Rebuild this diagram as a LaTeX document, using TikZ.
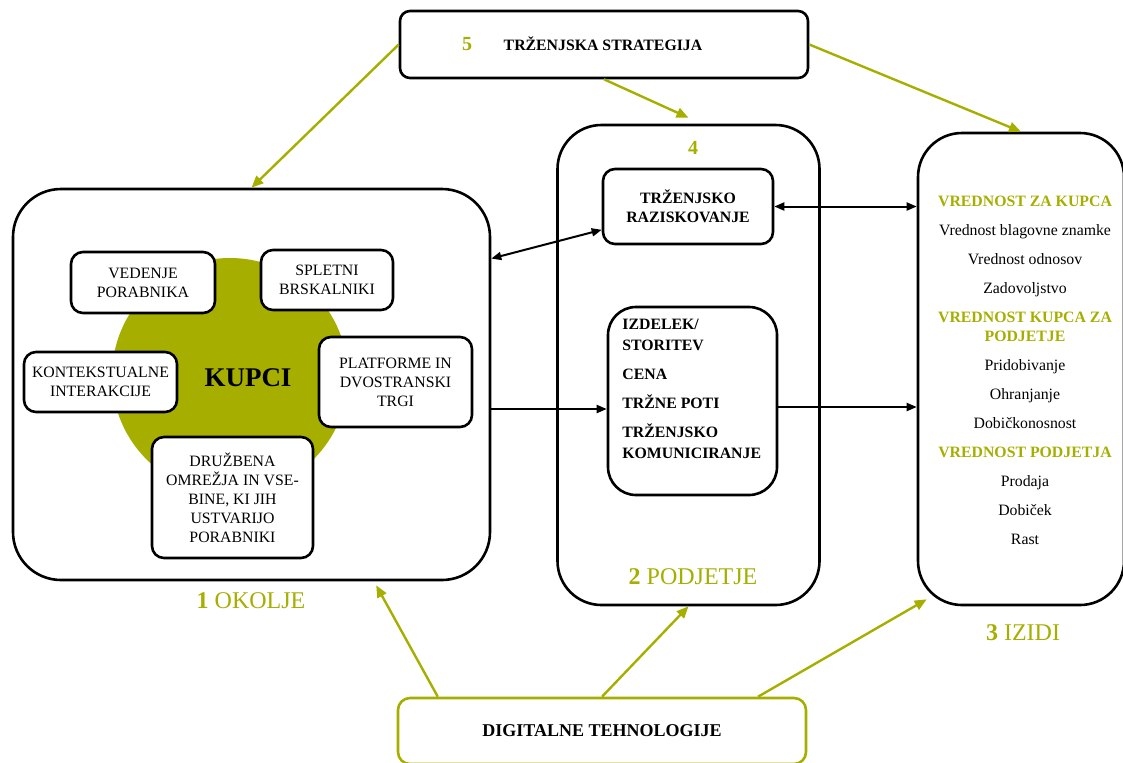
\documentclass[tikz,border=0pt]{standalone}
\usepackage{fontspec}
\setmainfont{Liberation Serif}
\usetikzlibrary{calc,arrows.meta}
\definecolor{trzolive}{RGB}{166,174,0}

\begin{document}
\begin{tikzpicture}[x=0.5pt,y=-0.5pt,
    bigbox/.style={draw,line width=1.3pt,rounded corners=24pt},
    smallbox/.style={draw,line width=1.3pt,rounded corners=6pt,fill=white,align=center,
      font=\fontsize{7.9}{9.5}\selectfont},
    greenarr/.style={draw=trzolive,line width=1.2pt,-{Triangle[length=6pt,width=5pt]}},
    blackarr/.style={line width=1pt,-{Triangle[length=5pt,width=4pt]}},
    dblarr/.style={line width=1pt,{Triangle[length=5pt,width=4pt]}-{Triangle[length=5pt,width=4pt]}},
    lbl/.style={text=trzolive,font=\fontsize{12}{14}\selectfont}]
    \useasboundingbox (0,0) rectangle (1123,762);

    % main boxes
    \node (strat) at (604,44.5) [draw,line width=1.3pt,rounded corners=5pt,
      minimum width=204pt,minimum height=33.5pt] {};
    \node (okolje) at (251.5,384.5) [bigbox,minimum width=238.5pt,minimum height=195.5pt] {};
    \node (podjetje) at (688.5,365) [bigbox,rounded corners=22pt,minimum width=131pt,minimum height=240pt] {};
    \node (izidi) at (1021,369) [bigbox,rounded corners=22pt,minimum width=103pt,minimum height=236pt] {};
    \node (digital) at (602,731) [draw=trzolive,line width=1.3pt,rounded corners=6pt,
      minimum width=204pt,minimum height=33pt,font=\fontsize{9}{11}\bfseries] {DIGITALNE TEHNOLOGIJE};

    \node (num5) at (467,44) [text=trzolive,font=\fontsize{10}{12}\bfseries] {5};
    \node (strattxt) at (603,44) [font=\fontsize{7.9}{9.5}\bfseries] {TRŽENJSKA STRATEGIJA};

    % okolje
    \fill[trzolive] (230,376) circle (59pt);
    \node (kupci) at (248,378) [font=\fontsize{13.5}{16}\bfseries] {KUPCI};
    \node (vedenje) at (143,282.5) [smallbox,minimum width=72pt,minimum height=30.5pt] {VEDENJE\\PORABNIKA};
    \node (spletni) at (327,280) [smallbox,minimum width=66pt,minimum height=30pt] {SPLETNI\\BRSKALNIKI};
    \node (kontekst) at (100.5,382) [smallbox,minimum width=76.5pt,minimum height=30pt] {KONTEKSTUALNE\\INTERAKCIJE};
    \node (platforme) at (395.5,382) [smallbox,minimum width=76.5pt,minimum height=45pt] {PLATFORME IN\\DVOSTRANSKI\\TRGI};
    \node (druzbena) at (232.5,497.5) [smallbox,minimum width=80.5pt,minimum height=60.5pt] {DRUŽBENA\\OMREŽJA IN VSE-\\BINE, KI JIH\\USTVARIJO\\PORABNIKI};
    \node (lblokolje) at (251,601) [lbl] {\textbf{1} OKOLJE};

    % podjetje
    \node (num4) at (693,148) [text=trzolive,font=\fontsize{10}{12}\bfseries] {4};
    \node (razisk) at (688,206.5) [smallbox,font=\fontsize{7.9}{9.5}\bfseries,
      minimum width=85pt,minimum height=37.5pt] {TRŽENJSKO\\RAZISKOVANJE};
    \node (mix) at (692.5,401) [draw,line width=1.3pt,rounded corners=14pt,
      minimum width=84.5pt,minimum height=94pt] {};
    \node (mixtxt) at (622,319) [anchor=north west,inner sep=0pt,align=left,
      font=\fontsize{7.9}{10.5}\bfseries] {IZDELEK/\\STORITEV\\[4pt]CENA\\[4pt]TRŽNE POTI\\[4pt]TRŽENJSKO\\KOMUNICIRANJE};
    \node (lblpodjetje) at (693,577) [lbl] {\textbf{2} PODJETJE};

    % izidi
    \node (izidtxt) at (1025,370) [align=center,font=\fontsize{7.9}{9.5}\selectfont]
      {\textcolor{trzolive}{\textbf{VREDNOST ZA KUPCA}}\\[5pt]
       Vrednost blagovne znamke\\[5pt]
       Vrednost odnosov\\[5pt]
       Zadovoljstvo\\[5pt]
       \textcolor{trzolive}{\textbf{VREDNOST KUPCA ZA}}\\
       \textcolor{trzolive}{\textbf{PODJETJE}}\\[5pt]
       Pridobivanje\\[5pt]
       Ohranjanje\\[5pt]
       Dobičkonosnost\\[5pt]
       \textcolor{trzolive}{\textbf{VREDNOST PODJETJA}}\\[5pt]
       Prodaja\\[5pt]
       Dobiček\\[5pt]
       Rast};
    \node (lblizidi) at (1023,633) [lbl] {\textbf{3} IZIDI};

    % green arrows
    \draw[greenarr] (strat.west) -- (okolje.north);
    \draw[greenarr] (strat.south) -- ([yshift=3pt]podjetje.north);
    \draw[greenarr] (strat.east) -- (izidi.north);
    \draw[greenarr] ($(digital.north west)!0.1!(digital.north east)$)
      -- ([yshift=-2pt]$(okolje.south west)!0.76!(okolje.south east)$);
    \draw[greenarr] (digital.north) -- (podjetje.south);
    \draw[greenarr] ($(digital.north west)!0.88!(digital.north east)$) -- ($(izidi.south west)+(10,-7)$);

    % black arrows
    \draw[dblarr] ($(okolje.north east)!0.18!(okolje.south east)$) -- ($(razisk.north west)!0.8!(razisk.south west)$);
    \draw[dblarr] (razisk.east) -- (razisk.east -| izidi.west);
    \draw[blackarr] ($(okolje.east |- mix.west)+(0,8)$) -- ($(mix.west)+(0,8)$);
    \draw[blackarr] ($(mix.east)+(0,6)$) -- ($(mix.east -| izidi.west)+(0,6)$);
\end{tikzpicture}
\end{document}
